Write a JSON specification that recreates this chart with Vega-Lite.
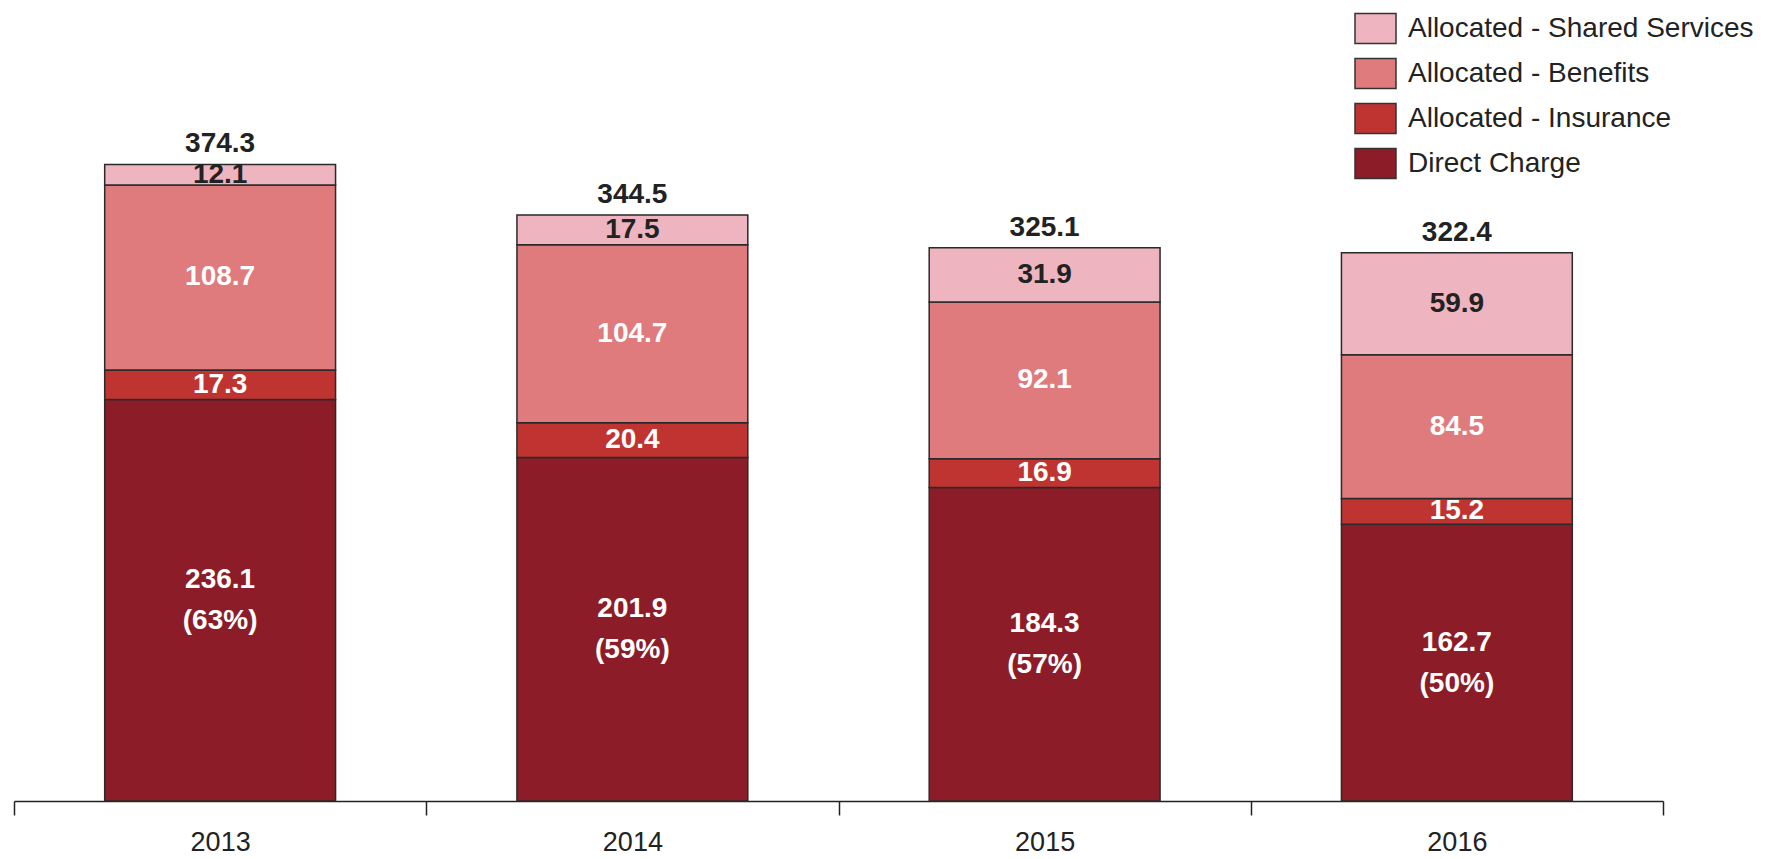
{
  "$schema": "https://vega.github.io/schema/vega-lite/v6.json",
  "width": 1649,
  "height": 791,
  "autosize": {"type": "none"},
  "padding": {"left": 14, "top": 10, "right": 111, "bottom": 58},
  "background": "white",
  "config": {"view": {"stroke": null}, "font": "Liberation Sans"},
  "datasets": {
    "segments": [
      {"year": "2013", "category": "Direct Charge", "order": 1, "value": 236.1, "label": "236.1\n(63%)"},
      {"year": "2013", "category": "Allocated - Insurance", "order": 2, "value": 17.3, "label": "17.3"},
      {"year": "2013", "category": "Allocated - Benefits", "order": 3, "value": 108.7, "label": "108.7"},
      {"year": "2013", "category": "Allocated - Shared Services", "order": 4, "value": 12.1, "label": "12.1"},
      {"year": "2014", "category": "Direct Charge", "order": 1, "value": 201.9, "label": "201.9\n(59%)"},
      {"year": "2014", "category": "Allocated - Insurance", "order": 2, "value": 20.4, "label": "20.4"},
      {"year": "2014", "category": "Allocated - Benefits", "order": 3, "value": 104.7, "label": "104.7"},
      {"year": "2014", "category": "Allocated - Shared Services", "order": 4, "value": 17.5, "label": "17.5"},
      {"year": "2015", "category": "Direct Charge", "order": 1, "value": 184.3, "label": "184.3\n(57%)"},
      {"year": "2015", "category": "Allocated - Insurance", "order": 2, "value": 16.9, "label": "16.9"},
      {"year": "2015", "category": "Allocated - Benefits", "order": 3, "value": 92.1, "label": "92.1"},
      {"year": "2015", "category": "Allocated - Shared Services", "order": 4, "value": 31.9, "label": "31.9"},
      {"year": "2016", "category": "Direct Charge", "order": 1, "value": 162.7, "label": "162.7\n(50%)"},
      {"year": "2016", "category": "Allocated - Insurance", "order": 2, "value": 15.2, "label": "15.2"},
      {"year": "2016", "category": "Allocated - Benefits", "order": 3, "value": 84.5, "label": "84.5"},
      {"year": "2016", "category": "Allocated - Shared Services", "order": 4, "value": 59.9, "label": "59.9"}
    ],
    "totals": [
      {"year": "2013", "total": 374.3},
      {"year": "2014", "total": 344.5},
      {"year": "2015", "total": 325.1},
      {"year": "2016", "total": 322.4}
    ]
  },
  "encoding": {
    "x": {
      "field": "year",
      "type": "nominal",
      "scale": {"paddingInner": 0, "paddingOuter": 0},
      "axis": {
        "title": null,
        "labelAngle": 0,
        "labelFontSize": 27,
        "labelColor": "#222",
        "labelFont": "Liberation Sans",
        "labelPadding": 14,
        "tickBand": "extent",
        "tickSize": 14,
        "tickColor": "#222",
        "tickWidth": 1.5,
        "domainColor": "#222",
        "domainWidth": 1.5
      }
    }
  },
  "layer": [
    {
      "data": {"name": "segments"},
      "mark": {"type": "bar", "stroke": "#2a2a2a", "strokeWidth": 1.5, "width": {"band": 0.56}},
      "encoding": {
        "y": {
          "field": "value",
          "type": "quantitative",
          "stack": "zero",
          "scale": {"domain": [0, 465], "nice": false},
          "axis": null
        },
        "order": {"field": "order", "type": "quantitative"},
        "color": {
          "field": "category",
          "type": "nominal",
          "scale": {
            "domain": ["Allocated - Shared Services", "Allocated - Benefits", "Allocated - Insurance", "Direct Charge"],
            "range": ["#eeb4bf", "#df7b7d", "#bf3430", "#8c1c27"]
          },
          "legend": {
            "title": null,
            "orient": "none",
            "legendX": 1340,
            "legendY": -3,
            "symbolType": "M-1,-0.73L1,-0.73L1,0.73L-1,0.73Z",
            "symbolSize": 1681,
            "symbolStrokeColor": "#333",
            "symbolStrokeWidth": 1.5,
            "labelFontSize": 28,
            "labelFont": "Liberation Sans",
            "labelColor": "#222",
            "labelOffset": 11,
            "rowPadding": 5,
            "labelLimit": 500
          }
        }
      }
    },
    {
      "data": {"name": "segments"},
      "transform": [
        {"stack": "value", "groupby": ["year"], "sort": [{"field": "order"}], "as": ["v0", "v1"]},
        {"calculate": "(datum.v0 + datum.v1) / 2", "as": "mid"},
        {"filter": "datum.category !== 'Direct Charge'"}
      ],
      "mark": {"type": "text", "fontSize": 28, "fontWeight": "bold", "font": "Liberation Sans", "baseline": "middle"},
      "encoding": {
        "y": {"field": "mid", "type": "quantitative"},
        "text": {"field": "label"},
        "color": {
          "condition": {"test": "datum.category === 'Allocated - Shared Services'", "value": "#222222"},
          "value": "#ffffff"
        }
      }
    },
    {
      "data": {"name": "segments"},
      "transform": [
        {"stack": "value", "groupby": ["year"], "sort": [{"field": "order"}], "as": ["v0", "v1"]},
        {"calculate": "(datum.v0 + datum.v1) / 2", "as": "mid"},
        {"filter": "datum.category === 'Direct Charge'"}
      ],
      "mark": {"type": "text", "fontSize": 28, "fontWeight": "bold", "font": "Liberation Sans", "lineBreak": "\n", "lineHeight": 41, "baseline": "middle", "dy": -20, "color": "#ffffff"},
      "encoding": {
        "y": {"field": "mid", "type": "quantitative"},
        "text": {"field": "label"}
      }
    },
    {
      "data": {"name": "totals"},
      "mark": {"type": "text", "fontSize": 28, "fontWeight": "bold", "font": "Liberation Sans", "baseline": "bottom", "dy": -6, "color": "#222222"},
      "encoding": {
        "y": {"field": "total", "type": "quantitative"},
        "text": {"field": "total", "type": "quantitative", "format": ".1f"}
      }
    }
  ]
}
